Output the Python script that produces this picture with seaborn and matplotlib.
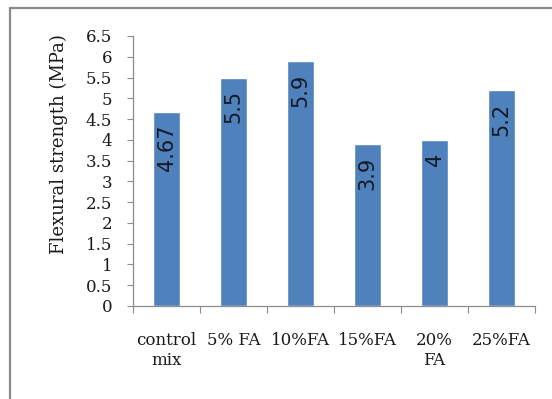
import matplotlib
matplotlib.use("Agg")
import matplotlib.pyplot as plt
from matplotlib.lines import Line2D
import numpy as np
import pandas as pd
import seaborn as sns

# Mix designations and their measured flexural strength (MPa)
mixes = ["control\nmix", "5% FA", "10%FA", "15%FA", "20%\nFA", "25%FA"]
strength = [4.67, 5.5, 5.9, 3.9, 4.0, 5.2]
y_ticks = [0, 0.5, 1, 1.5, 2, 2.5, 3, 3.5, 4, 4.5, 5, 5.5, 6, 6.5]
y_label = "Flexural strength (MPa)"

df = pd.DataFrame({"mix": mixes, "strength": strength})

sns.set_theme(style="white")
plt.rcParams["font.family"] = ["DejaVu Serif"]

fig = plt.figure(figsize=(5.52, 3.99), dpi=100)
fig.patch.set_facecolor("white")
ax = fig.add_axes([133 / 552, 1 - 306 / 399, 402 / 552, 270 / 399])

sns.barplot(data=df, x="mix", y="strength", color="#4F81BD", saturation=1,
            width=0.4, ax=ax, order=mixes)

ax.set_xlim(-0.5, len(mixes) - 0.5)
ax.set_ylim(0, 6.5)
ax.set_yticks(y_ticks)
ax.set_yticklabels([f"{v:g}" for v in y_ticks])

# value labels written vertically just inside the top of each bar
for i, v in enumerate(strength):
    ax.annotate(f"{v:g}", xy=(i, v), xytext=(0, -9),
                textcoords="offset points", ha="center", va="top",
                rotation=90, fontsize=15, color="#151a24",
                family="DejaVu Sans")

# axes styling: gray left/bottom lines, ticks between categories
for side in ("top", "right"):
    ax.spines[side].set_visible(False)
for side in ("left", "bottom"):
    ax.spines[side].set_color("#8c8c8c")
    ax.spines[side].set_linewidth(0.9)

ax.tick_params(axis="y", which="major", direction="out", length=4,
               width=0.8, color="#8c8c8c", pad=11, labelsize=12,
               labelcolor="#1a1a1a", left=True)
ax.set_xticks(np.arange(len(mixes)))
ax.set_xticklabels(mixes, fontsize=12, color="#1a1a1a", linespacing=1.2)
ax.set_xticks(np.arange(-0.5, len(mixes)), minor=True)
ax.tick_params(axis="x", which="major", length=0, pad=19)
ax.tick_params(axis="x", which="minor", direction="out", length=5,
               width=0.8, color="#8c8c8c", bottom=True)
ax.set_xlabel("")
ax.set_ylabel(y_label, fontsize=13, color="#1a1a1a")
ax.yaxis.set_label_coords(-0.162, 0.6)
ax.grid(False)

# outer chart frame: only its top and left edges fall inside the image
fx, fy = 10 / 552, 1 - 8 / 399
fig.add_artist(Line2D([fx, 1.0], [fy, fy], transform=fig.transFigure,
                      color="#8a8a8a", linewidth=1.6))
fig.add_artist(Line2D([fx, fx], [0.0, fy], transform=fig.transFigure,
                      color="#8a8a8a", linewidth=1.6))

fig.savefig("out.png", dpi=100, facecolor="white")
